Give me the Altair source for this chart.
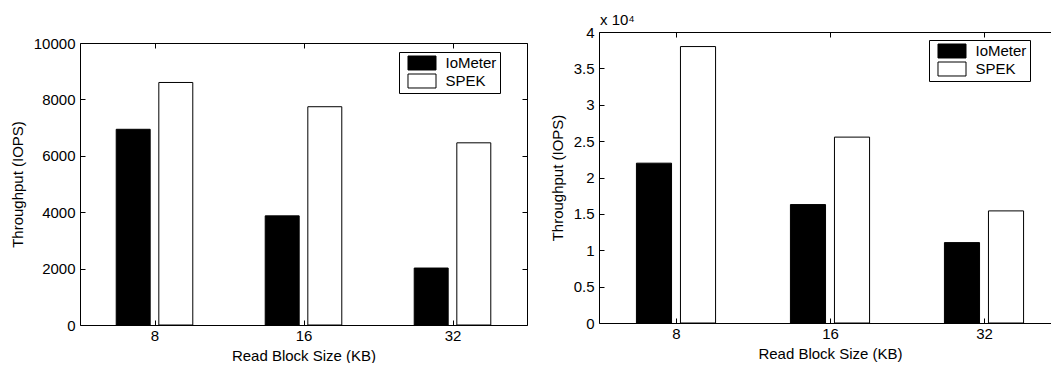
import altair as alt
import pandas as pd

# ---- data ----
sizes = [8, 16, 32]                      # Read block size (KB)
series = ["IoMeter", "SPEK"]
left_iometer = [6940, 3870, 2020]        # IOPS
left_spek = [8600, 7740, 6460]
right_iometer = [21970, 16280, 11050]    # IOPS
right_spek = [38000, 25550, 15410]
left_y_ticks = [0, 2000, 4000, 6000, 8000, 10000]
right_y_ticks = [0, 5000, 10000, 15000, 20000, 25000, 30000, 35000, 40000]
x_ticks = [3, 4, 5]                      # log2 of the block sizes
right_multiplier = ["x 10\u2074"]

FONT = "Liberation Sans"
BOX = "M-1.867,-0.933H1.867V0.933H-1.867Z"   # 28 x 14 legend swatch at size 225


def frame(a, b):
    rows = []
    for s, v in zip(sizes, a):
        rows.append({"size": s, "series": "IoMeter", "value": v})
    for s, v in zip(sizes, b):
        rows.append({"size": s, "series": "SPEK", "value": v})
    return pd.DataFrame(rows)


def panel(df, W, H, gap, xmax, ymax, yticks, ylabel_expr, lx, ly, right_border,
          note=None, title_x=None):
    base = alt.Chart(df).transform_calculate(
        pos="log(datum.size) / log(2)"
    ).transform_calculate(
        x0="datum.pos + (datum.series == 'IoMeter' ? -0.257 : 0.029)"
    ).transform_calculate(
        x1="datum.x0 + 0.228"
    )
    xscale = alt.Scale(domain=[2.5, xmax], nice=False, zero=False, padding=0)
    yscale = alt.Scale(domain=[0, ymax], nice=False, padding=0, range=[H, gap])

    xaxis_kw = dict(orient="bottom", values=x_ticks, labelExpr="pow(2, datum.value)",
                    ticks=False, domain=True, grid=False, title="Read Block Size (KB)",
                    labelPadding=3, titlePadding=5)
    if title_x is not None:
        xaxis_kw["titleX"] = title_x

    bars = base.mark_bar(stroke="black", strokeWidth=1).encode(
        x=alt.X("x0:Q", scale=xscale, axis=alt.Axis(**xaxis_kw)),
        x2="x1:Q",
        y=alt.Y("value:Q", scale=yscale,
                axis=alt.Axis(orient="left", values=yticks, labelExpr=ylabel_expr,
                              ticks=False, domain=True, grid=False,
                              title="Throughput (IOPS)", labelPadding=5, titlePadding=8)),
        y2=alt.datum(0),
        color=alt.Color("series:N",
                        scale=alt.Scale(domain=series, range=["black", "white"]),
                        legend=alt.Legend(title=None, orient="none", legendX=lx, legendY=ly,
                                          strokeColor="black", fillColor="white", padding=3,
                                          symbolType=BOX, symbolSize=225,
                                          symbolStrokeColor="black", symbolStrokeWidth=1,
                                          symbolOffset=12, labelOffset=15.5, rowPadding=0,
                                          labelFontSize=15, labelFont=FONT, labelColor="black",
                                          labelExpr="datum.label + '\u2002'")),
    )

    ticks_a = base.mark_bar(opacity=0).encode(
        x=alt.X("x0:Q", scale=xscale,
                axis=alt.Axis(orient="top", offset=-H, values=x_ticks, labels=False,
                              domain=False, ticks=True, tickSize=5, grid=False, title=None)),
        x2="x1:Q",
        y=alt.Y("value:Q", scale=yscale,
                axis=alt.Axis(orient="right", offset=-W, values=yticks, labels=False,
                              domain=False, ticks=True, tickSize=5, grid=False, title=None)),
        y2=alt.datum(0),
    )

    if right_border:
        yb = alt.Y("value:Q", scale=yscale,
                   axis=alt.Axis(orient="left", offset=-W, values=yticks, labels=False,
                                 domain=True, ticks=True, tickSize=5, grid=False, title=None))
    else:
        yb = alt.Y("value:Q", scale=yscale, axis=None)
    ticks_b = base.mark_bar(opacity=0).encode(
        x=alt.X("x0:Q", scale=xscale,
                axis=alt.Axis(orient="bottom", offset=-(H - gap), values=x_ticks, labels=False,
                              domain=True, ticks=True, tickSize=5, grid=False, title=None)),
        x2="x1:Q",
        y=yb,
        y2=alt.datum(0),
    )

    layers = [bars, ticks_a, ticks_b]
    if note is not None:
        layers.append(
            alt.Chart(pd.DataFrame({"note": note})).mark_text(
                align="left", baseline="alphabetic", font=FONT, fontSize=15, color="black",
                dx=1, dy=-7
            ).encode(x=alt.value(0), y=alt.value(0), text="note:N")
        )

    return alt.layer(*layers).resolve_axis(
        x="independent", y="independent"
    ).properties(width=W, height=H)


left = panel(frame(left_iometer, left_spek), 447, 293, 11, 5.5, 10000, left_y_ticks,
             "datum.value + ''", 319, 20, True)

right = panel(frame(right_iometer, right_spek), 452, 291, 0, 2.5 + 452 / 154, 40000,
              right_y_ticks, "datum.value / 10000 + ''", 330, 8, False,
              note=right_multiplier, title_x=231)

chart = alt.hconcat(left, right, spacing=22).resolve_scale(
    color="independent"
).properties(
    padding={"left": 10, "top": 13, "right": 0, "bottom": 0}
).configure_view(stroke=None).configure_axis(
    labelFont=FONT, labelFontSize=15, labelColor="black",
    titleFont=FONT, titleFontSize=15, titleFontWeight="normal", titleColor="black",
    domainColor="black", tickColor="black", domainWidth=1, tickWidth=1
)

chart.save("out.html", embed_options={"renderer": "svg", "actions": False})
